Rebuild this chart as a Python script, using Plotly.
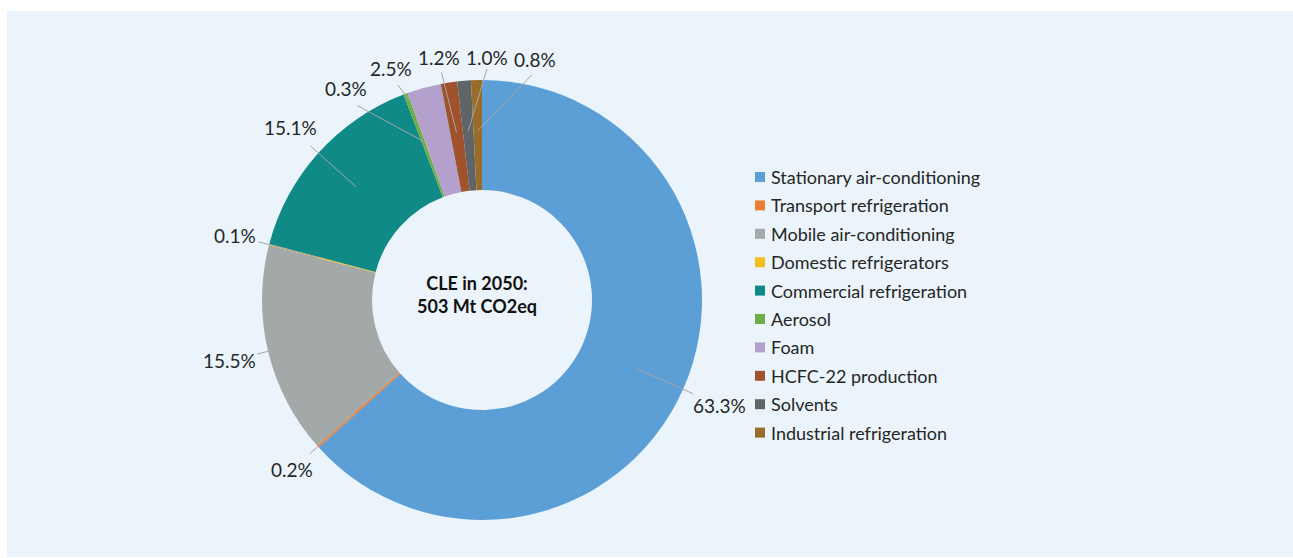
import math
import plotly.graph_objects as go

# HFC emissions by sector, CLE scenario 2050 (share of total, %)
categories = [
    "Stationary air-conditioning",
    "Transport refrigeration",
    "Mobile air-conditioning",
    "Domestic refrigerators",
    "Commercial refrigeration",
    "Aerosol",
    "Foam",
    "HCFC-22 production",
    "Solvents",
    "Industrial refrigeration",
]
shares = [63.3, 0.2, 15.5, 0.1, 15.1, 0.3, 2.5, 1.2, 1.0, 0.8]
colors = [
    "#5B9FD6", "#ED7D31", "#A3A8A9", "#F2BF1A", "#0F8A87",
    "#70AD47", "#B3A0CD", "#A0522D", "#5F6466", "#9A6C2A",
]
center_text = "CLE in 2050:<br>503 Mt CO2eq"

W, H = 1293, 558
FONT = "Lato"
TEXT_COLOR = "#262626"
BG = "#EAF4FA"

# pie placement (paper fractions, margins are zero)
dom_x = [262 / W, 702 / W]
dom_y = [1 - 520 / H, 1 - 80 / H]


def to_paper(px, py):
    return px / W, 1 - py / H


fig = go.Figure()
fig.add_trace(go.Pie(
    labels=categories,
    values=shares,
    marker=dict(colors=colors, line=dict(width=0)),
    hole=0.5,
    sort=False,
    direction="clockwise",
    rotation=0,
    textinfo="none",
    hoverinfo="label+percent",
    showlegend=False,
    domain=dict(x=dom_x, y=dom_y),
))

# geometry of the ring in pixels
cx = (dom_x[0] + dom_x[1]) / 2 * W
cy = (1 - (dom_y[0] + dom_y[1]) / 2) * H
R = (dom_x[1] - dom_x[0]) * W / 2

# mid angle of every slice, degrees clockwise from 12 o'clock
total = sum(shares)
mids = []
acc = 0.0
for v in shares:
    mids.append((acc + v / 2) / total * 360.0)
    acc += v

# spread crowded labels so neighbours keep a minimum angular gap
label_ang = mids[:]
GAP = 11.3
for _ in range(400):
    order = sorted(range(len(label_ang)), key=lambda i: label_ang[i])
    for a, b in zip(order[:-1], order[1:]):
        d = label_ang[b] - label_ang[a]
        if d < GAP:
            push = (GAP - d) / 2
            label_ang[a] -= push
            label_ang[b] += push

annotations = []
shapes = [
    # tinted panel behind the chart
    dict(type="rect", xref="paper", yref="paper",
         x0=7 / W, x1=1.0, y0=1 - 557 / H, y1=1 - 11 / H,
         fillcolor=BG, line=dict(width=0), layer="below"),
]

for v, m, la in zip(shares, mids, label_ang):
    txt = f"{v:.1f}%"
    hw = len(txt) * 5.0
    hh = 9.5
    t = math.radians(la)
    s, c = math.sin(t), math.cos(t)
    ext = abs(s) * hw + abs(c) * hh
    r_lab = R + 13 + ext
    lx, ly = cx + r_lab * s, cy - r_lab * c
    annotations.append(dict(
        x=to_paper(lx, ly)[0], y=to_paper(lx, ly)[1],
        xref="paper", yref="paper", text=txt, showarrow=False,
        xanchor="center", yanchor="middle",
        font=dict(family=FONT, size=19, color=TEXT_COLOR),
    ))
    # leader line: from the label edge into the middle of the slice
    r_start = r_lab - ext - 2
    sx, sy = cx + r_start * s, cy - r_start * c
    tm = math.radians(m)
    ex, ey = cx + 0.77 * R * math.sin(tm), cy - 0.77 * R * math.cos(tm)
    p0, p1 = to_paper(sx, sy), to_paper(ex, ey)
    shapes.append(dict(type="line", xref="paper", yref="paper",
                       x0=p0[0], y0=p0[1], x1=p1[0], y1=p1[1],
                       line=dict(color="#A6A6A6", width=1), layer="above"))

# centre caption
annotations.append(dict(
    x=to_paper(cx - 5, cy - 6)[0], y=to_paper(cx - 5, cy - 6)[1],
    xref="paper", yref="paper", text=f"<b>{center_text}</b>", showarrow=False,
    xanchor="center", yanchor="middle",
    font=dict(family=FONT, size=18, color="#111111"),
))

# legend column
LEG_X, LEG_Y0, LEG_STEP = 755, 177, 28.4
for i, (name, col) in enumerate(zip(categories, colors)):
    yc = LEG_Y0 + i * LEG_STEP
    a0, a1 = to_paper(LEG_X, yc + 5), to_paper(LEG_X + 10, yc - 5)
    shapes.append(dict(type="rect", xref="paper", yref="paper",
                       x0=a0[0], y0=a0[1], x1=a1[0], y1=a1[1],
                       fillcolor=col, line=dict(width=0)))
    tp = to_paper(LEG_X + 14, yc)
    annotations.append(dict(
        x=tp[0], y=tp[1], xref="paper", yref="paper", text=name,
        showarrow=False, xanchor="left", yanchor="middle",
        font=dict(family=FONT, size=18, color=TEXT_COLOR),
    ))

fig.update_layout(
    width=W, height=H, autosize=False,
    margin=dict(l=0, r=0, t=0, b=0),
    paper_bgcolor="white",
    plot_bgcolor="white",
    shapes=shapes,
    annotations=annotations,
    showlegend=False,
)

fig.write_html("out.html")
